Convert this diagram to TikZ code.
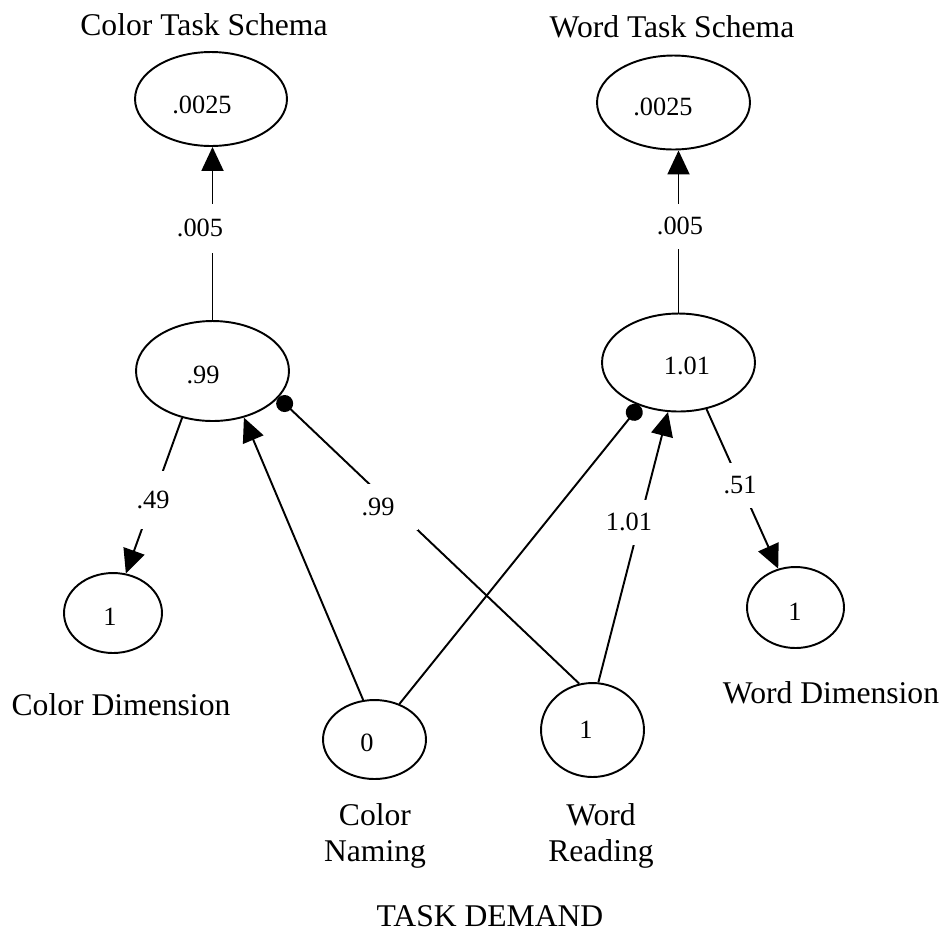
\documentclass[tikz,border=0pt]{standalone}
\usepackage{fontspec}
\setmainfont{Liberation Serif}
\usetikzlibrary{shapes.geometric,arrows.meta}
\begin{document}
\begin{tikzpicture}[x=0.02cm,y=-0.02cm,
  ell/.style={ellipse,draw,line width=1.1pt,inner sep=0pt},
  big/.style={font=\fontsize{18}{20.5}\selectfont,inner sep=0pt},
  num/.style={font=\fontsize{15}{18}\selectfont,inner sep=0pt},
  lab/.style={font=\fontsize{15}{18}\selectfont,fill=white,inner sep=0pt,minimum height=0.92cm,minimum width=1.0cm},
  edge/.style={line width=1.1pt},
  arr/.style={edge,-{Triangle[length=0.48cm,width=0.44cm]}},
  dotend/.style={edge,-{Circle[length=0.34cm]}}]
\fill[white] (0,0) rectangle (946,931);
\useasboundingbox (0,0) rectangle (946,931);

% ellipses
\node[ell,minimum width=3.04cm,minimum height=1.88cm] (ctop) at (211,99) {};
\node[ell,minimum width=3.06cm,minimum height=1.88cm] (wtop) at (673.5,102.5) {};
\node[ell,minimum width=3.06cm,minimum height=2.0cm] (cmid) at (212.5,371) {};
\node[ell,minimum width=3.06cm,minimum height=1.96cm] (wmid) at (678.5,362.5) {};
\node[ell,minimum width=1.96cm,minimum height=1.6cm] (cdim) at (113,613) {};
\node[ell,minimum width=1.94cm,minimum height=1.62cm] (wdim) at (795.5,607.5) {};
\node[ell,minimum width=2.06cm,minimum height=1.58cm] (cn) at (374.5,739.5) {};
\node[ell,minimum width=2.06cm,minimum height=1.88cm] (wr) at (592.5,730) {};

% values inside ellipses
\node[num] (v1) at (202,105) {.0025};
\node[num] (v2) at (663,107) {.0025};
\node[num] (v3) at (203,375) {.99};
\node[num] (v4) at (687,366) {1.01};
\node[num] (v5) at (110,617) {1};
\node[num] (v6) at (795,612) {1};
\node[num] (v7) at (367,743) {0};
\node[num] (v8) at (586,730) {1};

% connectors
\draw[arr] (cmid.north) -- (cmid.north |- ctop.south);
\draw[arr] (wmid.north) -- (wmid.north |- wtop.south);
\draw[arr] (cmid.237.1) -- (cdim.72);
\draw[arr] (wmid.301.3) -- (wdim.114.5);
\draw[arr] (cn.106.4) -- (cmid.304.4);
\draw[dotend] (wr.106) -- (cmid.338.4);
\draw[dotend] (cn.55.8) -- (wmid.228.4);
\draw[arr] (wr.83.3) -- (wmid.258);

% connector labels
\node[lab,minimum height=0.98cm] (l1) at (200,228) {.005};
\node[lab,minimum height=0.9cm] (l2) at (680,226) {.005};
\node[lab,minimum height=1.16cm] (l3) at (153,500) {.49};
\node[lab,minimum height=0.9cm] (l4) at (740,485) {.51};
\node[lab,minimum height=0.92cm,minimum width=1.6cm] (l5) at (378,507) {.99};
\node[lab,minimum height=0.9cm] (l6) at (629,522) {1.01};

% titles
\node[big] (t1) at (204,25) {Color Task Schema};
\node[big] (t2) at (672,27) {Word Task Schema};
\node[big] (t3) at (121,705) {Color Dimension};
\node[big] (t4) at (831,693) {Word Dimension};
\node[big,align=center,anchor=base] (t5) at (375,861) {Color\\Naming};
\node[big,align=center,anchor=base] (t6) at (601,861) {Word\\Reading};
\node[big] (t7) at (490,916) {TASK DEMAND};
\end{tikzpicture}
\end{document}
